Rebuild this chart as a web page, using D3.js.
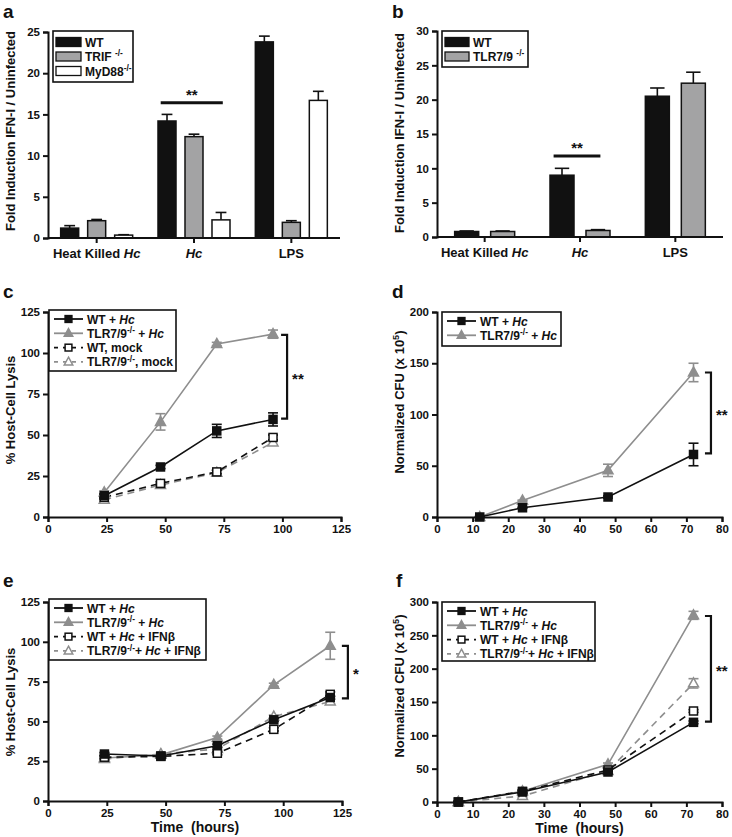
<!DOCTYPE html>
<html><head><meta charset="utf-8">
<script src="https://cdn.jsdelivr.net/npm/d3@7"></script>
<style>
body{margin:0;background:#fff}
text{font-family:"Liberation Sans",Arial,sans-serif;font-weight:bold;fill:#111}
</style>
</head><body>
<svg id="fig" width="732" height="837"></svg>
<script>
// ---------------- DATA ----------------
const barCategories = ["Heat Killed <i>Hc</i>", "<i>Hc</i>", "LPS"];

const aSeries = ["WT", "TRIF <sup>-/-</sup>", "MyD88<sup>-/-</sup>"];
const aValues = [[1.2, 14.2, 23.8], [2.1, 12.3, 1.9], [0.35, 2.2, 16.7]];
const aErrors = [[0.3, 0.8, 0.7], [0.15, 0.3, 0.2], [0.05, 0.9, 1.1]];
const aTicks = [0, 5, 10, 15, 20, 25];

const bSeries = ["WT", "TLR7/9 <sup>-/-</sup>"];
const bValues = [[0.8, 9.0, 20.5], [0.8, 0.95, 22.4]];
const bErrors = [[0.08, 1.0, 1.2], [0.08, 0.12, 1.6]];
const bTicks = [0, 5, 10, 15, 20, 25, 30];

const cTimes = [24, 48, 72, 96];
const cSeries = ["WT + <i>Hc</i>", "TLR7/9<sup>-/-</sup> + <i>Hc</i>", "WT, mock", "TLR7/9<sup>-/-</sup>, mock"];
const cValues = [[13, 30.5, 52.5, 59.5], [15, 58, 105.5, 111.5], [12, 20.5, 27.5, 48.5], [10.5, 19.5, 27, 45.5]];
const cErrors = [[1, 1, 4, 4], [1, 5, 1, 2.5], [1, 1, 1, 1.5], [1, 1, 1.5, 1.5]];
const cXTicks = [0, 25, 50, 75, 100, 125];
const cYTicks = [0, 25, 50, 75, 100, 125];

const dTimes = [12, 24, 48, 72];
const dSeries = ["WT + <i>Hc</i>", "TLR7/9<sup>-/-</sup> + <i>Hc</i>"];
const dValues = [[0, 9, 19.5, 61], [0, 16, 45.5, 141]];
const dErrors = [[0.5, 0.5, 1, 11], [0.5, 0.5, 6, 9]];
const dXTicks = [0, 10, 20, 30, 40, 50, 60, 70, 80];
const dYTicks = [0, 50, 100, 150, 200];

const eTimes = [24, 48, 72, 96, 120];
const eSeries = ["WT + <i>Hc</i>", "TLR7/9<sup>-/-</sup> + <i>Hc</i>", "WT + <i>Hc</i> + IFNβ", "TLR7/9<sup>-/-</sup>+ <i>Hc</i> + IFNβ"];
const eValues = [[29.5, 28.3, 34.7, 51, 65], [27, 29, 39.8, 73, 97.5], [27.5, 28, 30, 45, 67], [26.4, 29.5, 32.7, 53, 62.5]];
const eErrors = [[1, 1, 1, 1, 1], [1, 1, 1, 1, 8.5], [1, 1, 1, 1, 1.5], [1, 1, 1, 1, 1.5]];
const eXTicks = [0, 25, 50, 75, 100, 125];
const eYTicks = [0, 25, 50, 75, 100, 125];

const fTimes = [6, 24, 48, 72];
const fSeries = ["WT + <i>Hc</i>", "TLR7/9<sup>-/-</sup> + <i>Hc</i>", "WT + <i>Hc</i> + IFNβ", "TLR7/9<sup>-/-</sup>+ <i>Hc</i> + IFNβ"];
const fValues = [[0, 15, 45, 119.5], [0, 16, 56.5, 280], [0, 16, 48, 136.5], [0, 9, 46.5, 178]];
const fErrors = [[1, 2, 2, 2], [1, 2, 2, 6], [1, 2, 2, 2], [1, 2, 2, 7]];
const fXTicks = [0, 10, 20, 30, 40, 50, 60, 70, 80];
const fYTicks = [0, 50, 100, 150, 200, 250, 300];

// ---------------- HELPERS ----------------
const svg = d3.select("#fig");
const BLACK = "#111", GRAY = "#8e8e8e", BARGRAY = "#a3a3a4";

function rich(textSel, str, fs) {
  const parts = str.split(/(<i>.*?<\/i>|<sup>.*?<\/sup>)/).filter(s => s.length);
  let shifted = 0;
  parts.forEach(p => {
    const t = textSel.append("tspan");
    if (p.startsWith("<sup>")) {
      t.text(p.slice(5, -6)).attr("font-size", fs * 0.7).attr("dy", -fs * 0.38);
      shifted = fs * 0.38;
    } else {
      if (shifted) { t.attr("dy", shifted); shifted = 0; }
      if (p.startsWith("<i>")) t.text(p.slice(3, -4)).attr("font-style", "italic");
      else t.text(p);
    }
  });
}

function yAxis(g, y, ticks, x0) {
  const ax = g.append("g").attr("transform", `translate(${x0},0)`)
    .call(d3.axisLeft(y).tickValues(ticks).tickSize(5).tickPadding(3).tickFormat(d3.format("d")));
  ax.select(".domain").attr("stroke", BLACK).attr("stroke-width", 2);
  ax.selectAll(".tick line").attr("stroke", BLACK).attr("stroke-width", 2);
  ax.selectAll("text").attr("font-size", 11.5).attr("font-family", '"Liberation Sans",Arial,sans-serif').attr("font-weight", "bold").attr("fill", BLACK);
  return ax;
}
function xAxisNum(g, x, ticks, y0) {
  const ax = g.append("g").attr("transform", `translate(0,${y0})`)
    .call(d3.axisBottom(x).tickValues(ticks).tickSize(5).tickPadding(3).tickFormat(d3.format("d")));
  ax.select(".domain").attr("stroke", BLACK).attr("stroke-width", 2);
  ax.selectAll(".tick line").attr("stroke", BLACK).attr("stroke-width", 2);
  ax.selectAll("text").attr("font-size", 11.5).attr("font-family", '"Liberation Sans",Arial,sans-serif').attr("font-weight", "bold").attr("fill", BLACK);
}
function yTitle(x, yc, str, fs) {
  const t = svg.append("text").attr("transform", `translate(${x},${yc}) rotate(-90)`)
    .attr("text-anchor", "middle").attr("font-size", fs);
  rich(t, str, fs);
}
function panelLetter(x, y, s) {
  svg.append("text").attr("x", x).attr("y", y).attr("font-size", 19).text(s);
}

// ---------------- BAR PANELS ----------------
function barPanel(o) {
  const g = svg.append("g");
  const x0 = d3.scaleBand().domain(barCategories).range(o.xr).padding(0);
  const x1 = d3.scaleBand().domain(o.series.map((d, i) => i)).range([-o.half, o.half]).paddingInner(0.333);
  const y = d3.scaleLinear().domain([0, o.ticks[o.ticks.length - 1]]).range(o.yr);
  const fills = o.fills;
  o.series.forEach((s, si) => {
    barCategories.forEach((c, ci) => {
      const cx = x0(c) + x0.bandwidth() / 2 + x1(si);
      const v = o.values[si][ci], e = o.errors[si][ci];
      const xm = cx + x1.bandwidth() / 2;
      g.append("line").attr("x1", xm).attr("x2", xm).attr("y1", y(v)).attr("y2", y(v + e))
        .attr("stroke", BLACK).attr("stroke-width", 1.6);
      g.append("line").attr("x1", xm - x1.bandwidth() * 0.3).attr("x2", xm + x1.bandwidth() * 0.3)
        .attr("y1", y(v + e)).attr("y2", y(v + e)).attr("stroke", BLACK).attr("stroke-width", 1.6);
      g.append("rect").attr("x", cx).attr("width", x1.bandwidth())
        .attr("y", y(v)).attr("height", y(0) - y(v))
        .attr("fill", fills[si]).attr("stroke", BLACK).attr("stroke-width", 1.5);
    });
  });
  yAxis(g, y, o.ticks, o.xr[0]);
  g.append("line").attr("x1", o.xr[0]).attr("x2", o.xr[1]).attr("y1", y(0)).attr("y2", y(0))
    .attr("stroke", BLACK).attr("stroke-width", 2);
  barCategories.forEach(c => {
    const cx = x0(c) + x0.bandwidth() / 2;
    g.append("line").attr("x1", cx).attr("x2", cx).attr("y1", y(0)).attr("y2", y(0) + 5)
      .attr("stroke", BLACK).attr("stroke-width", 2);
    const t = g.append("text").attr("x", cx).attr("y", y(0) + 20).attr("text-anchor", "middle").attr("font-size", 13);
    rich(t, c, 13);
  });
  const sc = barCategories[1];
  const sx1 = x0(sc) + x0.bandwidth() / 2 + x1(0) + x1.bandwidth() * 0.15;
  const sx2 = x0(sc) + x0.bandwidth() / 2 + x1(o.series.length - 1) + x1.bandwidth() * 0.6;
  g.append("line").attr("x1", sx1).attr("x2", sx2).attr("y1", y(o.sigY)).attr("y2", y(o.sigY))
    .attr("stroke", BLACK).attr("stroke-width", 3);
  g.append("text").attr("x", (sx1 + sx2) / 2).attr("y", y(o.sigY) - 3).attr("text-anchor", "middle")
    .attr("font-size", 15).attr("font-weight", "normal").text("**");
  const L = o.legend;
  g.append("rect").attr("x", L.x).attr("y", L.y).attr("width", L.w).attr("height", L.h)
    .attr("fill", "#fff").attr("stroke", BLACK).attr("stroke-width", 1.6);
  o.series.forEach((s, si) => {
    const yy = L.y + 11 + si * 14.5;
    g.append("rect").attr("x", L.x + 3).attr("y", yy - 4.5).attr("width", L.sw).attr("height", 9)
      .attr("fill", fills[si]).attr("stroke", BLACK).attr("stroke-width", 1.3);
    const t = g.append("text").attr("x", L.x + L.sw + 7).attr("y", yy + 4.5).attr("font-size", 12);
    rich(t, s, 12);
  });
}

barPanel({ series: aSeries, values: aValues, errors: aErrors, ticks: aTicks,
  xr: [48, 340], yr: [238, 32], half: 36, fills: [BLACK, BARGRAY, "#fff"], sigY: 16.4,
  legend: { x: 53, y: 31, w: 80, h: 51, sw: 25 } });
barPanel({ series: bSeries, values: bValues, errors: bErrors, ticks: bTicks,
  xr: [437, 723], yr: [237, 31], half: 30, fills: [BLACK, BARGRAY], sigY: 11.8,
  legend: { x: 442, y: 31, w: 86, h: 36, sw: 24 } });

yTitle(15, 131, "Fold Induction IFN-I / Uninfected", 13);
yTitle(404, 133, "Fold Induction IFN-I / Uninfected", 13);

// ---------------- LINE PANELS ----------------
const styles = [
  { color: BLACK, dash: null, shape: "square", fill: BLACK },
  { color: GRAY, dash: null, shape: "triangle", fill: GRAY },
  { color: BLACK, dash: "7,5", shape: "square", fill: "#fff" },
  { color: GRAY, dash: "7,5", shape: "triangle", fill: "#fff" }
];
function marker(g, x, y, st, k) {
  k = k || 1;
  if (st.shape === "square") {
    g.append("rect").attr("x", x - 4 * k).attr("y", y - 4 * k).attr("width", 8 * k).attr("height", 8 * k)
      .attr("fill", st.fill).attr("stroke", st.color).attr("stroke-width", 1.5);
  } else {
    g.append("path").attr("d", `M${x},${y - 5.5 * k}L${x + 5 * k},${y + 3.5 * k}L${x - 5 * k},${y + 3.5 * k}Z`)
      .attr("fill", st.fill).attr("stroke", st.color).attr("stroke-width", 1.5);
  }
}
function linePanel(o) {
  const g = svg.append("g");
  const x = d3.scaleLinear().domain([o.xt[0], o.xt[o.xt.length - 1]]).range(o.xr);
  const y = d3.scaleLinear().domain([o.yt[0], o.yt[o.yt.length - 1]]).range(o.yr);
  const order = o.order || o.series.map((d, i) => i);
  order.forEach(si => {
    const st = styles[si];
    const pts = o.times.map((t, i) => [t, o.values[si][i], o.errors[si][i]]);
    g.append("path").attr("d", d3.line().x(d => x(d[0])).y(d => y(d[1]))(pts))
      .attr("fill", "none").attr("stroke", st.color).attr("stroke-width", 1.6)
      .attr("stroke-dasharray", st.dash);
    pts.forEach(p => {
      const xm = x(p[0]);
      [p[1] + p[2], p[1] - p[2]].forEach(v => {
        g.append("line").attr("x1", xm).attr("x2", xm).attr("y1", y(p[1])).attr("y2", y(v))
          .attr("stroke", st.color).attr("stroke-width", 1.6);
        g.append("line").attr("x1", xm - 5).attr("x2", xm + 5).attr("y1", y(v)).attr("y2", y(v))
          .attr("stroke", st.color).attr("stroke-width", 1.6);
      });
      marker(g, xm, y(p[1]), st);
    });
  });
  xAxisNum(g, x, o.xt, o.yr[0]);
  yAxis(g, y, o.yt, o.xr[0]);
  const B = o.bracket;
  const bx = x(B.x);
  g.append("path").attr("d", `M${bx - 6},${y(B.y1)}H${bx}V${y(B.y2)}H${bx - 6}`)
    .attr("fill", "none").attr("stroke", BLACK).attr("stroke-width", 2.2);
  g.append("text").attr("x", bx + 5).attr("y", (y(B.y1) + y(B.y2)) / 2 + 7)
    .attr("font-size", 15).attr("font-weight", "normal").text(B.label);
  const L = o.legend;
  g.append("rect").attr("x", L.x).attr("y", L.y).attr("width", L.w).attr("height", L.h)
    .attr("fill", "#fff").attr("stroke", BLACK).attr("stroke-width", 1.6);
  o.series.forEach((s, si) => {
    const st = styles[si];
    const yy = L.y + 9 + si * 14.3;
    const xa = L.x + 5, xb = L.x + 34, xm = (xa + xb) / 2;
    g.append("line").attr("x1", xa).attr("x2", xb).attr("y1", yy).attr("y2", yy)
      .attr("stroke", st.color).attr("stroke-width", 1.8).attr("stroke-dasharray", st.dash ? "4,5" : null);
    marker(g, xm, yy, st, 0.85);
    const t = g.append("text").attr("x", L.x + 38).attr("y", yy + 4.5).attr("font-size", 12);
    rich(t, s, 12);
  });
  if (o.xTitle) {
    svg.append("text").attr("x", (o.xr[0] + o.xr[1]) / 2).attr("y", o.yr[0] + 31)
      .attr("text-anchor", "middle").attr("font-size", 14).attr("xml:space", "preserve")
      .text(o.xTitle);
  }
}

linePanel({ times: cTimes, series: cSeries, values: cValues, errors: cErrors, xt: cXTicks, yt: cYTicks,
  xr: [48, 341], yr: [517, 312], order: [3, 2, 1, 0],
  bracket: { x: 102, y1: 111, y2: 60, label: "**" },
  legend: { x: 49, y: 310, w: 127, h: 61 } });
linePanel({ times: dTimes, series: dSeries, values: dValues, errors: dErrors, xt: dXTicks, yt: dYTicks,
  xr: [437, 722], yr: [517, 312], order: [1, 0],
  bracket: { x: 76.9, y1: 141, y2: 62, label: "**" },
  legend: { x: 442, y: 312, w: 119, h: 34 } });
linePanel({ times: eTimes, series: eSeries, values: eValues, errors: eErrors, xt: eXTicks, yt: eYTicks,
  xr: [48, 342], yr: [801, 602], order: [1, 3, 2, 0],
  bracket: { x: 127.5, y1: 97.4, y2: 64.5, label: "*" },
  legend: { x: 49, y: 599, w: 157, h: 61 }, xTitle: "Time  (hours)" });
linePanel({ times: fTimes, series: fSeries, values: fValues, errors: fErrors, xt: fXTicks, yt: fYTicks,
  xr: [437, 722], yr: [802, 602], order: [1, 3, 2, 0],
  bracket: { x: 76.9, y1: 279, y2: 120.5, label: "**" },
  legend: { x: 442, y: 602, w: 153, h: 59 }, xTitle: "Time  (hours)" });

yTitle(15, 410, "% Host-Cell Lysis", 13);
yTitle(404, 402, "Normalized CFU (x 10<sup>5</sup>)", 13);
yTitle(15, 702, "% Host-Cell Lysis", 13);
yTitle(404, 686, "Normalized CFU (x 10<sup>5</sup>)", 13);

panelLetter(3, 18, "a");
panelLetter(392, 18, "b");
panelLetter(3, 298, "c");
panelLetter(392, 298, "d");
panelLetter(3, 587, "e");
panelLetter(396, 587, "f");
</script>
</body></html>
